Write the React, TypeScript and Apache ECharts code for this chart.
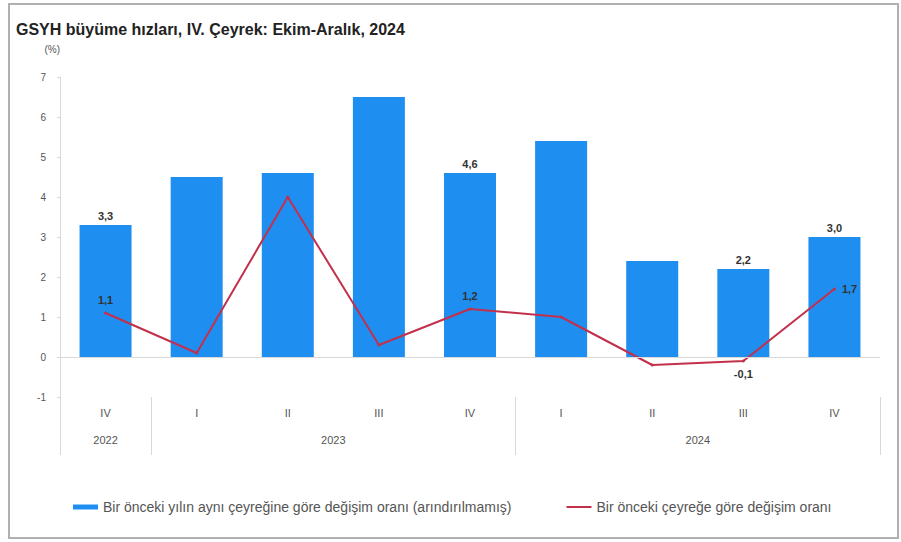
import React, { useEffect, useRef } from "react";
import * as echarts from "echarts";

const TITLE = "GSYH büyüme hızları, IV. Çeyrek: Ekim-Aralık, 2024";
const quarters = ["IV", "I", "II", "III", "IV", "I", "II", "III", "IV"];
const yearSlots = ["", "2022", "", "", "", "", "2023", "", "", "", "", "", "", "", "2024", "", "", "", ""];
const yearBoundaryIdx = [0, 2, 10, 18];
const yoyName = "Bir önceki yılın aynı çeyreğine göre değişim oranı (arındırılmamış)";
const qoqName = "Bir önceki çeyreğe göre değişim oranı";
const yoyValues = [3.3, 4.5, 4.6, 6.5, 4.6, 5.4, 2.4, 2.2, 3.0];
const qoqValues = [1.1, 0.1, 4.0, 0.3, 1.2, 1.0, -0.2, -0.1, 1.7];
const yoyLabelIdx = [0, 4, 7, 8];
const qoqLabelPos: Record<number, string> = { 0: "top", 4: "top", 7: "bottom", 8: "right" };

const fmt = (v: number) => v.toFixed(1).replace(".", ",");

export default function App() {
  const ref = useRef<HTMLDivElement>(null);
  useEffect(() => {
    if (!ref.current) return;
    const chart = echarts.init(ref.current, undefined, { renderer: "svg" });
    const font = "Liberation Sans, Arial, sans-serif";
    chart.setOption({
      animation: false,
      backgroundColor: "#fff",
      textStyle: { fontFamily: font },
      title: {
        text: TITLE,
        left: 11,
        top: 16,
        textStyle: { fontSize: 16, fontWeight: "bold", color: "#222", fontFamily: font },
      },
      graphic: [
        {
          type: "rect",
          shape: { x: 9, y: 4, width: 889, height: 534 },
          style: { fill: "none", stroke: "#b0b0b0", lineWidth: 2 },
          silent: true,
        },
      ],
      legend: {
        left: 68,
        top: 495,
        itemWidth: 25,
        itemHeight: 5,
        itemGap: 55,
        textStyle: { fontSize: 14, color: "#555", fontFamily: font },
        data: [
          { name: yoyName, icon: "rect" },
          { name: qoqName, icon: "path://M0,0 L25,0 L25,2 L0,2 Z" },
        ],
      },
      grid: { left: 60, right: 21, top: 77, bottom: 145, containLabel: false },
      xAxis: [
        {
          type: "category",
          data: quarters,
          position: "bottom",
          axisLine: { show: false },
          axisTick: { show: false },
          axisLabel: { margin: 10, fontSize: 11, color: "#555", interval: 0 },
        },
        {
          type: "category",
          data: yearSlots,
          boundaryGap: false,
          position: "bottom",
          axisLine: { show: false },
          axisTick: {
            show: true,
            length: 58,
            interval: (i: number) => yearBoundaryIdx.includes(i),
            lineStyle: { color: "#d9d9d9", width: 1 },
          },
          axisLabel: { margin: 37, fontSize: 11, color: "#555", interval: 0 },
        },
      ],
      yAxis: {
        type: "value",
        min: -1,
        max: 7,
        interval: 1,
        name: "(%)",
        nameLocation: "end",
        nameGap: 23,
        nameTextStyle: { fontSize: 10, color: "#555", align: "right" },
        axisLine: { show: true, lineStyle: { color: "#d9d9d9" } },
        axisTick: { show: true, length: 3, lineStyle: { color: "#d9d9d9" } },
        axisLabel: { fontSize: 10, color: "#555", margin: 14 },
        splitLine: { show: false },
      },
      series: [
        {
          name: yoyName,
          type: "bar",
          xAxisIndex: 0,
          barWidth: 52,
          itemStyle: { color: "#1e8ff0" },
          data: yoyValues.map((v, i) => ({
            value: v,
            label: {
              show: yoyLabelIdx.includes(i),
              position: "top",
              distance: 4,
              formatter: () => fmt(v),
              fontSize: 11,
              fontWeight: "bold",
              color: "#333",
            },
          })),
          markLine: {
            silent: true,
            symbol: "none",
            label: { show: false },
            lineStyle: { color: "#d9d9d9", type: "solid", width: 1 },
            data: [{ yAxis: 0 }],
          },
        },
        {
          name: qoqName,
          type: "line",
          xAxisIndex: 0,
          symbol: "circle",
          symbolSize: 3,
          lineStyle: { color: "#c3304c", width: 2 },
          itemStyle: { color: "#c3304c" },
          data: qoqValues.map((v, i) => ({
            value: v,
            label: {
              show: qoqLabelPos[i] !== undefined,
              position: qoqLabelPos[i] || "top",
              distance: 6,
              formatter: () => fmt(v),
              fontSize: 11,
              fontWeight: "bold",
              color: "#333",
            },
          })),
        },
      ],
    });
    return () => chart.dispose();
  }, []);
  return (
    <div
      ref={ref}
      style={{ position: "absolute", left: 0, top: 0, width: 901, height: 542 }}
    />
  );
}
